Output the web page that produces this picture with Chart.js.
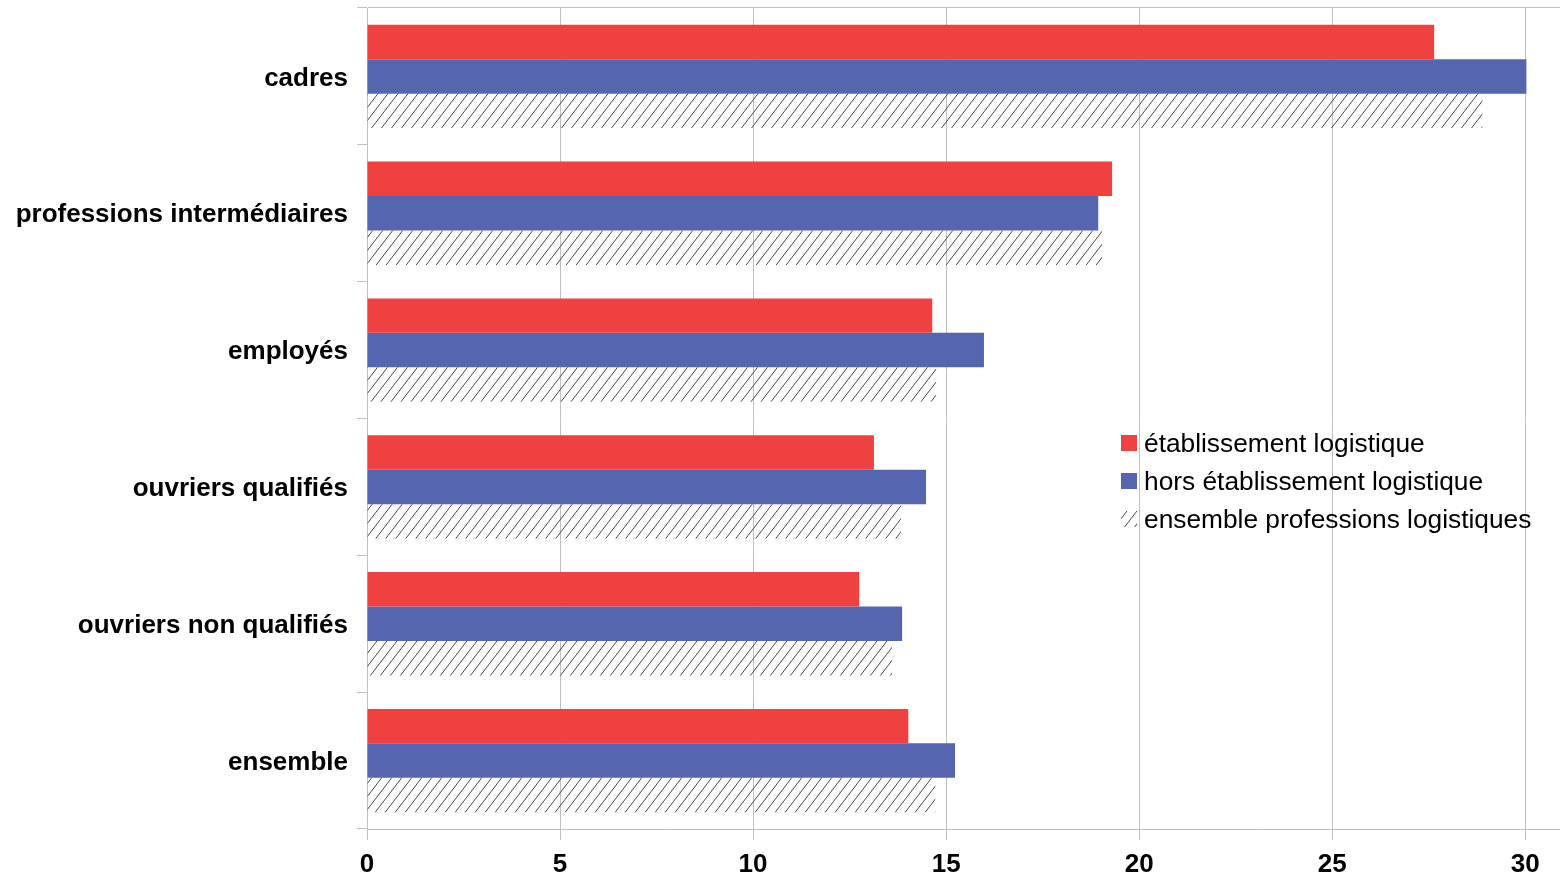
<!DOCTYPE html>
<html>
<head>
<meta charset="utf-8">
<script src="https://cdn.jsdelivr.net/npm/chart.js@4/dist/chart.umd.min.js"></script>
<style>
html,body{margin:0;padding:0;background:#fff;}
#wrap{width:1560px;height:876px;position:relative;}
</style>
</head>
<body>
<div id="wrap"><canvas id="c" width="1560" height="876"></canvas></div>
<script>
const categories = ["cadres", "professions intermédiaires", "employés", "ouvriers qualifiés", "ouvriers non qualifiés", "ensemble"];
const seriesNames = ["établissement logistique", "hors établissement logistique", "ensemble professions logistiques"];
const etablissement = [27.64, 19.30, 14.64, 13.13, 12.75, 14.02];
const horsEtablissement = [30.03, 18.94, 15.98, 14.48, 13.86, 15.23];
const ensemblePro = [28.89, 19.04, 14.74, 13.83, 13.60, 14.72];
const xTicks = [0, 5, 10, 15, 20, 25, 30];

const RED = 'rgb(239,65,64)';
const BLUE = 'rgb(85,101,175)';
const GRID = '#c0c0c0';
const FONT = "'Liberation Sans', Arial, sans-serif";

function makeHatch() {
  const w = 10, h = 13;
  const t = document.createElement('canvas');
  t.width = w; t.height = h;
  const g = t.getContext('2d');
  g.strokeStyle = '#4a4a4a';
  g.lineWidth = 1;
  g.beginPath();
  g.moveTo(-w, 2*h); g.lineTo(2*w, -h);
  g.moveTo(-2*w, 2*h); g.lineTo(w, -h);
  g.moveTo(0, 2*h); g.lineTo(3*w, -h);
  g.stroke();
  return document.getElementById('c').getContext('2d').createPattern(t, 'repeat');
}
const hatch = makeHatch();

const legendPlugin = {
  id: 'customLegend',
  afterDraw(chart) {
    const ctx = chart.ctx;
    ctx.save();
    const x0 = 1121, ys = [443, 481, 519];
    const fills = [RED, BLUE, hatch];
    ctx.font = "26.3px " + FONT;
    ctx.textBaseline = 'middle';
    for (let i = 0; i < 3; i++) {
      ctx.fillStyle = '#fff';
      ctx.fillRect(x0, ys[i] - 8, 16, 16);
      ctx.fillStyle = fills[i];
      ctx.fillRect(x0, ys[i] - 8, 16, 16);
      ctx.fillStyle = '#000';
      ctx.fillText(seriesNames[i], 1144, ys[i] + 2);
    }
    ctx.restore();
  }
};

new Chart(document.getElementById('c'), {
  type: 'bar',
  data: {
    labels: categories,
    datasets: [
      { label: seriesNames[0], data: etablissement, backgroundColor: RED },
      { label: seriesNames[1], data: horsEtablissement, backgroundColor: BLUE },
      { label: seriesNames[2], data: ensemblePro, backgroundColor: hatch }
    ]
  },
  options: {
    indexAxis: 'y',
    responsive: false,
    animation: false,
    devicePixelRatio: 1,
    layout: { padding: { top: 8, right: 0, bottom: 0, left: 0 } },
    datasets: { bar: { categoryPercentage: 0.755, barPercentage: 1.0, borderWidth: 0 } },
    plugins: { legend: { display: false }, tooltip: { enabled: false } },
    scales: {
      x: {
        type: 'linear',
        min: 0,
        max: 30.9,
        afterBuildTicks(scale) { scale.ticks = xTicks.map(v => ({ value: v })); },
        afterFit(scale) { scale.height = 47; scale.paddingLeft = 0; scale.paddingRight = 0; },
        ticks: {
          includeBounds: false,
          stepSize: 5,
          padding: 9,
          color: '#000',
          font: { family: FONT, size: 26, weight: 'bold' },
          maxRotation: 0
        },
        grid: { color: GRID, lineWidth: 1, tickLength: 11, drawTicks: true },
        border: { display: true, color: GRID, width: 1 }
      },
      y: {
        type: 'category',
        offset: true,
        afterFit(scale) { scale.width = 367; scale.paddingTop = 0; scale.paddingBottom = 0; },
        ticks: {
          padding: 9,
          labelOffset: 2,
          color: '#000',
          font: { family: FONT, size: 26, weight: 'bold' }
        },
        grid: {
          offset: true,
          drawOnChartArea: true,
          tickLength: 10,
          color: (c) => (c.index === 0 ? GRID : 'rgba(0,0,0,0)'),
          tickColor: GRID,
          lineWidth: 1
        },
        border: { display: true, color: GRID, width: 1 }
      }
    }
  },
  plugins: [legendPlugin]
});
</script>
</body>
</html>
